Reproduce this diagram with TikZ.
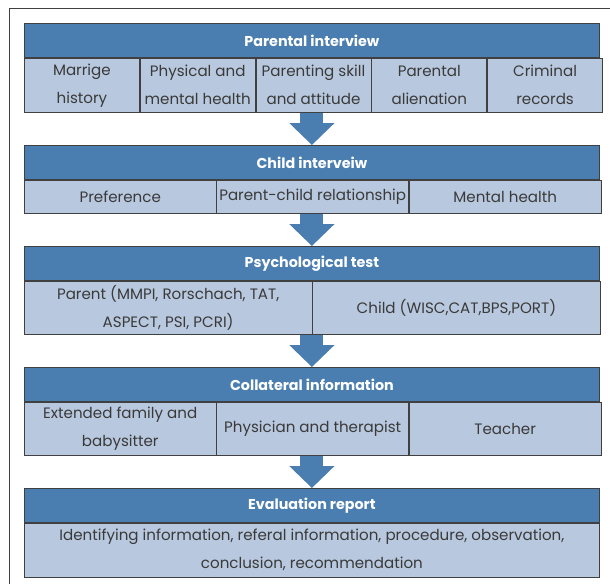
\documentclass[tikz,border=0pt]{standalone}
\usepackage{fontspec}
\setmainfont{Poppins}
\usetikzlibrary{positioning,arrows.meta}
\definecolor{headblue}{RGB}{74,126,176}
\definecolor{cellblue}{RGB}{184,200,222}
\definecolor{linegray}{RGB}{64,64,64}
\definecolor{textgray}{RGB}{58,58,58}

\begin{document}
\begin{tikzpicture}[
x=1pt, y=-1pt,
head/.style={draw=linegray, line width=0.8pt, fill=headblue, text=white,
  font=\fontsize{14.3}{16}\selectfont\bfseries,
  minimum width=575pt, minimum height=34pt, inner sep=0pt, anchor=north west},
cell/.style 2 args={draw=linegray, line width=0.8pt, fill=cellblue, text=textgray,
  font=\fontsize{15.1}{28}\selectfont, align=center, inner sep=0pt,
  anchor=north west, minimum width=#1, minimum height=#2},
flow/.style={headblue, line width=23pt, shorten <=0.5pt,
  -{Triangle[width=44pt,length=22pt]}},
%every node/.style={scale=0.9},
]
\useasboundingbox (0,0) rectangle (610,584);
\draw[linegray, line width=0.8pt] (610,8) -- (9,8) -- (9,584);

% parental interview
\node [head] (h1) at (24,23) {Parental interview};
\node [cell={115pt}{54pt}] (c11) at (h1.south west) {Marrige\\history};
\node [cell={115pt}{54pt}] (c12) at (c11.north east) {Physical and\\mental health};
\node [cell={115pt}{54pt}] (c13) at (c12.north east) {Parenting skill\\and attitude};
\node [cell={115pt}{54pt}] (c14) at (c13.north east) {Parental\\alienation};
\node [cell={115pt}{54pt}] (c15) at (c14.north east) {Criminal\\records};

% child interview
\node [head] (h2) at (24,145) {Child interveiw};
\node [cell={191.67pt}{33pt}] (c21) at (h2.south west) {Preference};
\node [cell={191.67pt}{33pt}] (c22) at (c21.north east) {Parent-child relationship};
\node [cell={191.67pt}{33pt}] (c23) at (c22.north east) {Mental health};

% psychological test
\node [head] (h3) at (24,246) {Psychological test};
\node [cell={287.5pt}{53pt}] (c31) at (h3.south west) {Parent (MMPI, Rorschach, TAT,\\ASPECT, PSI, PCRI)};
\node [cell={287.5pt}{53pt}] (c32) at (c31.north east) {Child (WISC,CAT,BPS,PORT)};

% collateral information
\node [head] (h4) at (24,367) {Collateral information};
\node [cell={191.67pt}{53pt}] (c41) at (h4.south west) {Extended family and\\babysitter};
\node [cell={191.67pt}{53pt}] (c42) at (c41.north east) {Physician and therapist};
\node [cell={191.67pt}{53pt}] (c43) at (c42.north east) {Teacher};

% evaluation report
\node [head] (h5) at (24,488) {Evaluation report};
\node [cell={575pt}{54pt}] (c51) at (h5.south west) {Identifying information, referal information, procedure, observation,\\conclusion, recommendation};

\draw [flow] (h1 |- c11.south) -- (h2.north);
\draw [flow] (h2 |- c21.south) -- (h3.north);
\draw [flow] (h3 |- c31.south) -- (h4.north);
\draw [flow] (h4 |- c41.south) -- (h5.north);
\end{tikzpicture}
\end{document}
